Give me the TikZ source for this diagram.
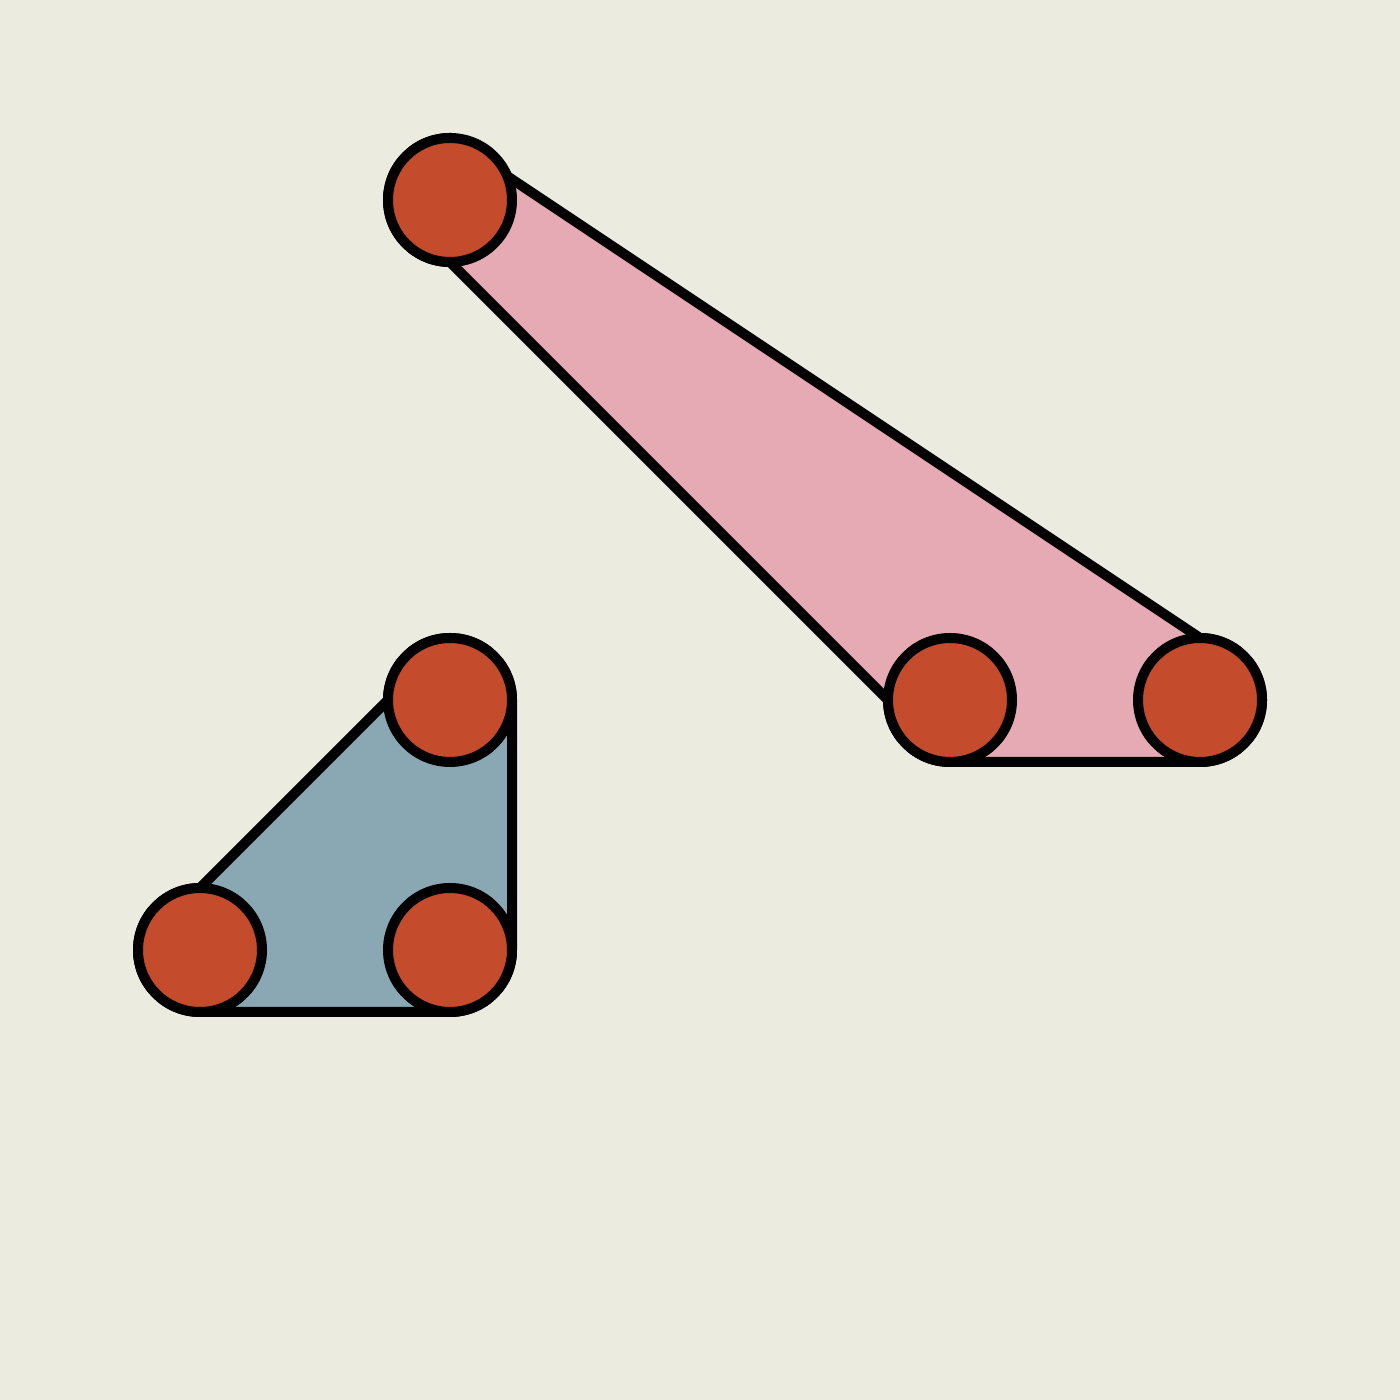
\documentclass[tikz,border=0pt]{standalone}
\usetikzlibrary{calc}
\definecolor{bgc}{HTML}{EBEBDF}
\definecolor{pinkc}{HTML}{E6AAB4}
\definecolor{bluec}{HTML}{8AA8B4}
\definecolor{dotc}{HTML}{C44B2C}
\tikzset{
  dot/.style={circle,draw=black,fill=dotc,line width=0.5cm,minimum size=6.2cm,inner sep=0pt,outer sep=0pt},
  hull/.style={draw=black,line width=0.5cm}
}
\begin{document}
\begin{tikzpicture}[x=0.05cm,y=0.05cm]
\fill[bgc] (0,0) rectangle (1400,1400);
\useasboundingbox (0,0) rectangle (1400,1400);
% centres (y flipped: 1400 - image y)
\coordinate (p1) at (450,1200);
\coordinate (p2) at (950,700);
\coordinate (p3) at (1200,700);
\coordinate (b1) at (450,700);
\coordinate (b2) at (200,450);
\coordinate (b3) at (450,450);
% pink hull
\path[hull,fill=pinkc] ($(p1)+(0,62)$) arc[start angle=90,end angle=270,radius=3.1cm]
  -- ($(p2)+(-62,0)$) arc[start angle=180,end angle=270,radius=3.1cm]
  -- ($(p3)+(0,-62)$) arc[start angle=-90,end angle=90,radius=3.1cm]
  -- cycle;
% blue hull
\path[hull,fill=bluec] ($(b1)+(-62,0)$) -- ($(b2)+(0,62)$) arc[start angle=90,end angle=270,radius=3.1cm]
  -- ($(b3)+(0,-62)$) arc[start angle=-90,end angle=0,radius=3.1cm]
  -- ($(b1)+(62,0)$) arc[start angle=0,end angle=180,radius=3.1cm]
  -- cycle;
% dots
\node[dot] (n1) at (p1) {};
\node[dot] (n2) at (p2) {};
\node[dot] (n3) at (p3) {};
\node[dot] (m1) at (b1) {};
\node[dot] (m2) at (b2) {};
\node[dot] (m3) at (b3) {};
\end{tikzpicture}
\end{document}
